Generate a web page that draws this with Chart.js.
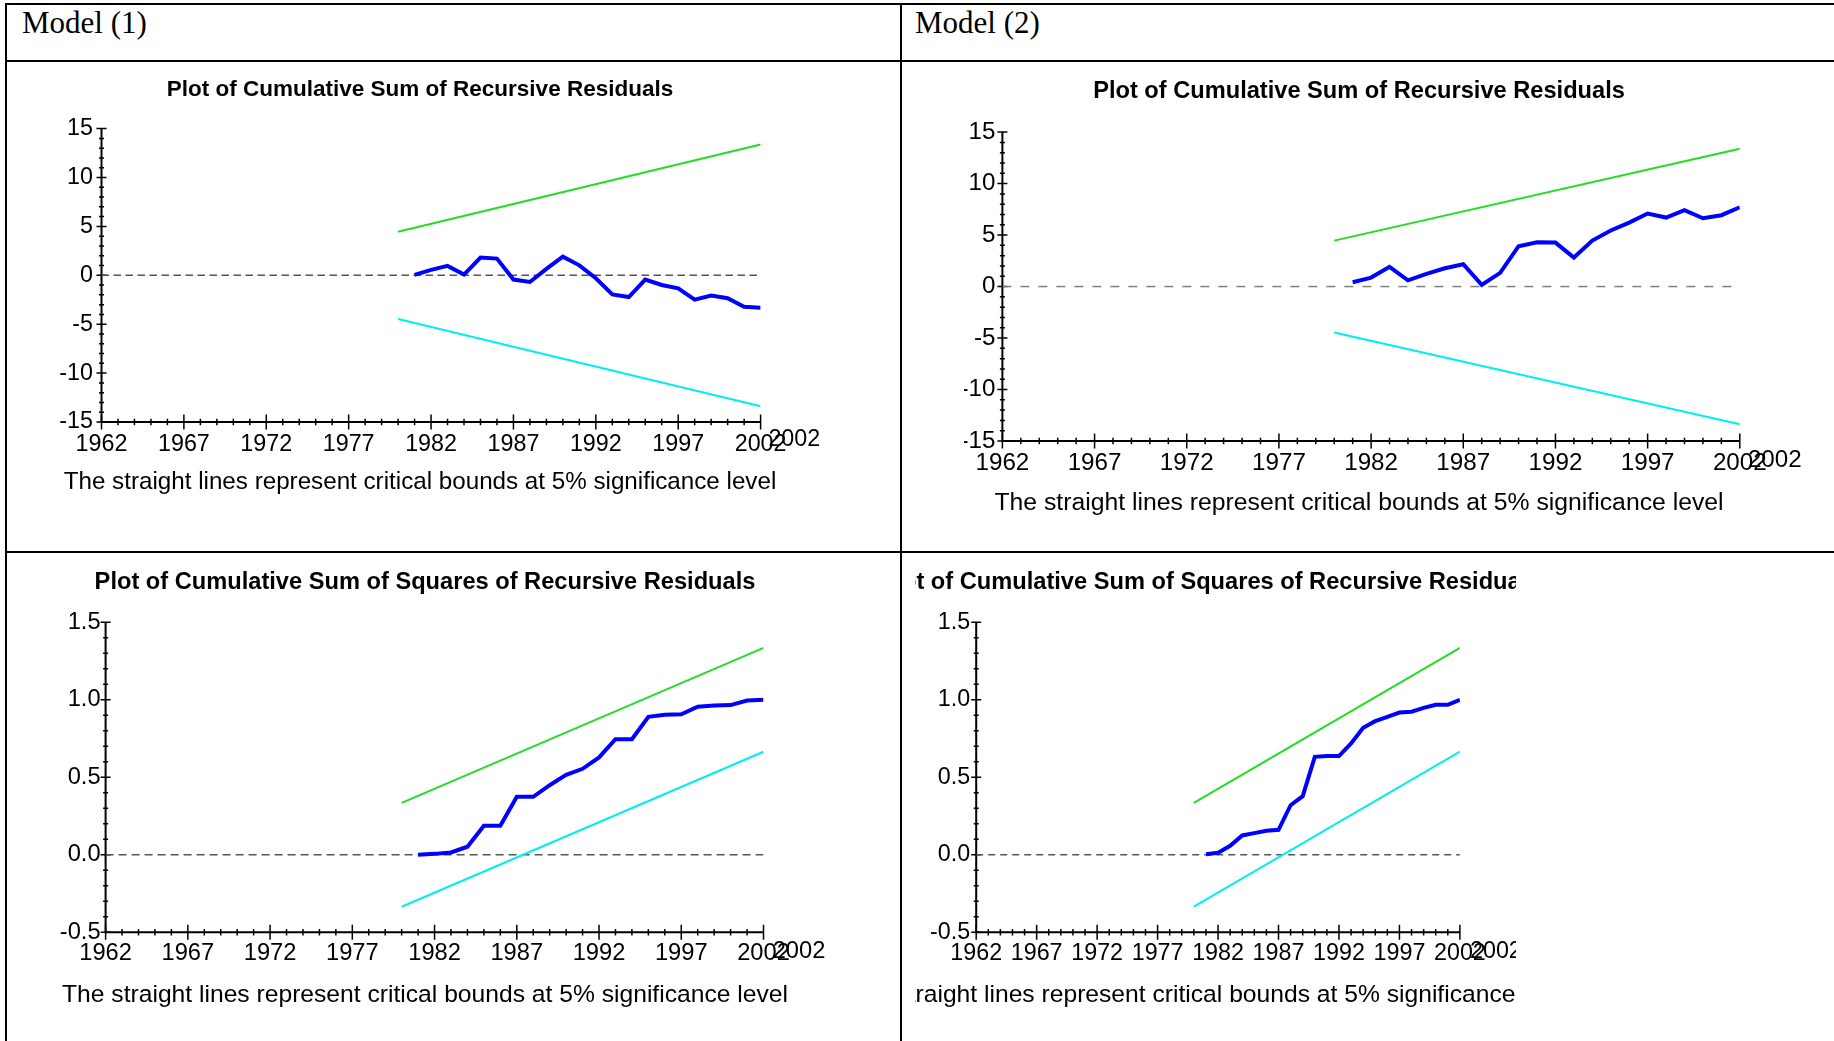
<!DOCTYPE html>
<html>
<head>
<meta charset="utf-8">
<title>CUSUM and CUSUMSQ plots</title>
<script src="https://cdn.jsdelivr.net/npm/chart.js@4.4.1/dist/chart.umd.min.js"></script>
<style>
  html, body { margin: 0; padding: 0; background: #fff; }
  body { width: 1834px; height: 1041px; position: relative; overflow: hidden; }
  .rule { position: absolute; background: #000; }
  .model { position: absolute; font-family: "Liberation Serif", "Times New Roman", serif; font-size: 31px; line-height: 31px; color: #000; white-space: nowrap; }
  canvas { position: absolute; }
  .clip { position: absolute; overflow: hidden; }
</style>
</head>
<body>
<!-- table rules -->
<div class="rule" style="left:5px;top:3px;width:1829px;height:2px"></div>
<div class="rule" style="left:5px;top:60px;width:1829px;height:2px"></div>
<div class="rule" style="left:5px;top:551px;width:1829px;height:2px"></div>
<div class="rule" style="left:5px;top:3px;width:2px;height:1038px"></div>
<div class="rule" style="left:900px;top:3px;width:2px;height:1038px"></div>
<div class="model" style="left:22px;top:7px">Model (1)</div>
<div class="model" style="left:915px;top:7px">Model (2)</div>

<script>
// ---- data ----
const years = [1981, 1982, 1983, 1984, 1985, 1986, 1987, 1988, 1989, 1990, 1991,
               1992, 1993, 1994, 1995, 1996, 1997, 1998, 1999, 2000, 2001, 2002];

// cumulative sum of recursive residuals
const cusumModel1 = [0.05, 0.55, 0.96, 0.07, 1.81, 1.71, -0.44, -0.68, 0.65, 1.91, 1.02,
                     -0.3, -1.95, -2.22, -0.44, -0.99, -1.33, -2.49, -2.08, -2.35, -3.21, -3.31];
const cusumModel2 = [0.42, 0.87, 1.91, 0.61, 1.23, 1.78, 2.17, 0.16, 1.33, 3.92, 4.30,
                     4.27, 2.82, 4.47, 5.44, 6.21, 7.09, 6.70, 7.41, 6.63, 6.93, 7.70];

// cumulative sum of squares of recursive residuals
const cusumsqModel1 = [0.0, 0.006, 0.015, 0.052, 0.187, 0.187, 0.374, 0.374, 0.449, 0.516, 0.555,
                       0.628, 0.746, 0.746, 0.890, 0.903, 0.906, 0.955, 0.963, 0.966, 0.995, 1.0];
const cusumsqModel2 = [0.004, 0.013, 0.058, 0.125, 0.140, 0.155, 0.161, 0.320, 0.378, 0.632, 0.637,
                       0.637, 0.718, 0.819, 0.862, 0.890, 0.918, 0.923, 0.948, 0.968, 0.968, 1.0];

// 5% critical bounds (straight lines)
const boundYears = [1980, 2002];
const cusumUpper = [4.46, 13.38];
const cusumLower = [-4.46, -13.38];
const cusumsqUpper = [0.335, 1.335];
const cusumsqLower = [-0.335, 0.665];

// dashed zero reference
const zeroYears = [1962, 2002];
const zeroValues = [0, 0];

// tick labels
const yearTicks = [1962, 1967, 1972, 1977, 1982, 1987, 1992, 1997, 2002];
const cusumTicks = [-15, -10, -5, 0, 5, 10, 15];
const cusumTickLabels = ['-15', '-10', '-5', '0', '5', '10', '15'];
const cusumsqTicks = [-0.5, 0, 0.5, 1.0, 1.5];
const cusumsqTickLabels = ['-0.5', '0.0', '0.5', '1.0', '1.5'];

const titleCusum = 'Plot of Cumulative Sum of Recursive Residuals';
const titleCusumsq = 'Plot of Cumulative Sum of Squares of Recursive Residuals';
const caption = 'The straight lines represent critical bounds at 5% significance level';

const FONT = "'Liberation Sans', Arial, Helvetica, sans-serif";

// ---- page layout of the four panels (page pixels) ----
const panels = [
  { id: 'cusum1', title: titleCusum, values: cusumModel1, upper: cusumUpper, lower: cusumLower,
    yTicks: cusumTicks, yLabels: cusumTickLabels, yMinor: 1,
    canvas: [10, 64, 830, 433], plot: [101.5, 128.6, 760.6, 422], box: [50, 790],
    titleY: 90, titleSize: 22.5, capY: 482, capSize: 24.2, tickSize: 23.3,
    xLabelY: 444.6, yGap: 8.5, extra: [33.7, 18], dash: [7.5, 4.5], zeroColor: '#555' },
  { id: 'cusum2', title: titleCusum, values: cusumModel2, upper: cusumUpper, lower: cusumLower,
    yTicks: cusumTicks, yLabels: cusumTickLabels, yMinor: 1,
    canvas: [940, 64, 885, 455], plot: [1002.4, 132.1, 1739.8, 441], box: [964, 1754],
    titleY: 91, titleSize: 23.64, capY: 503.6, capSize: 24.75, tickSize: 24.2,
    xLabelY: 463, yGap: 7, extra: [35, 19.7], dash: [9, 9], zeroColor: '#808080' },
  { id: 'cusumsq1', title: titleCusumsq, values: cusumsqModel1, upper: cusumsqUpper, lower: cusumsqLower,
    yTicks: cusumsqTicks, yLabels: cusumsqTickLabels, yMinor: 0.1,
    canvas: [10, 556, 835, 454], plot: [105.6, 622.3, 763.5, 932.3], box: [50, 800],
    titleY: 582.7, titleSize: 23.65, capY: 995, capSize: 24.65, tickSize: 23.7,
    xLabelY: 953.3, yGap: 5, extra: [35.5, 19.4], dash: [8, 5], zeroColor: '#555' },
  { id: 'cusumsq2', title: titleCusumsq, values: cusumsqModel2, upper: cusumsqUpper, lower: cusumsqLower,
    yTicks: cusumsqTicks, yLabels: cusumsqTickLabels, yMinor: 0.1,
    canvas: [830, 556, 770, 454], plot: [976.2, 622.3, 1459.9, 932.3], box: [840, 1580],
    titleY: 582.7, titleSize: 23.65, capY: 995, capSize: 24.65, tickSize: 23.3,
    xLabelY: 953.3, yGap: 6, extra: [36, 19.4], dash: [7, 5], zeroColor: '#555',
    clip: [915, 553, 601, 488] }
];

// axis lines with crossing major/minor tick marks, plus the stray second "2002"
const axisMarks = {
  id: 'axisMarks',
  beforeDatasetsDraw(chart, args, o) {
    const { ctx, chartArea: a } = chart;
    const x = chart.scales.x, y = chart.scales.y;
    ctx.save();
    ctx.strokeStyle = '#000';
    ctx.lineWidth = 1.5;
    ctx.beginPath();
    for (let i = 0; i <= 40; i++) {
      const px = x.getPixelForValue(x.min + i);
      const len = i % 5 === 0 ? 7.5 : 3.3;
      ctx.moveTo(px, a.bottom - len);
      ctx.lineTo(px, a.bottom + len);
    }
    const n = Math.round((y.max - y.min) / o.yMinor);
    for (let i = 0; i <= n; i++) {
      const py = y.getPixelForValue(y.min + i * o.yMinor);
      const len = i % 5 === 0 ? 5 : 2.5;
      ctx.moveTo(a.left - len, py);
      ctx.lineTo(a.left + len, py);
    }
    ctx.stroke();
    ctx.lineWidth = 2;
    ctx.beginPath();
    ctx.moveTo(a.left, a.top);
    ctx.lineTo(a.left, a.bottom);
    ctx.lineTo(a.right, a.bottom);
    ctx.stroke();
    ctx.restore();
  },
  afterDraw(chart, args, o) {
    const { ctx, chartArea: a } = chart;
    const x = chart.scales.x;
    ctx.save();
    ctx.font = o.tickSize + 'px ' + FONT;
    ctx.fillStyle = '#000';
    ctx.textAlign = 'center';
    ctx.textBaseline = 'middle';
    ctx.fillText(String(x.max), x.getPixelForValue(x.max) + o.extra[0], a.bottom + o.extra[1]);
    ctx.restore();
  }
};

function series(xs, ys) {
  return xs.map((v, i) => ({ x: v, y: ys[i] }));
}

panels.forEach(function (p) {
  const [CL, CT, CW, CH] = p.canvas;
  const [AL, AT, AR, AB] = p.plot;
  const [BL, BR] = p.box;
  const hx = 40;
  const lhT = p.titleSize * 1.2;
  const lhC = p.capSize * 1.2;

  const canvas = document.createElement('canvas');
  canvas.id = p.id;
  canvas.width = CW;
  canvas.height = CH;
  if (p.clip) {
    const wrap = document.createElement('div');
    wrap.className = 'clip';
    wrap.style.left = p.clip[0] + 'px';
    wrap.style.top = p.clip[1] + 'px';
    wrap.style.width = p.clip[2] + 'px';
    wrap.style.height = p.clip[3] + 'px';
    canvas.style.left = (CL - p.clip[0]) + 'px';
    canvas.style.top = (CT - p.clip[1]) + 'px';
    wrap.appendChild(canvas);
    document.body.appendChild(wrap);
  } else {
    canvas.style.left = CL + 'px';
    canvas.style.top = CT + 'px';
    document.body.appendChild(canvas);
  }

  const isSq = p.yMinor < 1;
  const yMin = p.yTicks[0], yMax = p.yTicks[p.yTicks.length - 1];

  new Chart(canvas.getContext('2d'), {
    type: 'line',
    data: {
      datasets: [
        { data: series(years, p.values), borderColor: '#0000ff', borderWidth: 4 },
        { data: series(boundYears, p.upper), borderColor: '#22dd22', borderWidth: 2 },
        { data: series(boundYears, p.lower), borderColor: '#00eeee', borderWidth: 2 },
        { data: series(zeroYears, zeroValues), borderColor: p.zeroColor, borderWidth: 1.5, borderDash: p.dash }
      ].map(d => Object.assign({ yAxisID: 'y', pointRadius: 0, fill: false, tension: 0 }, d))
    },
    options: {
      responsive: false,
      animation: false,
      events: [],
      layout: { padding: { left: BL - CL, right: CL + CW - BR, top: 0, bottom: 0 } },
      plugins: {
        legend: { display: false },
        tooltip: { enabled: false },
        title: {
          display: true, text: p.title, color: '#000',
          font: { family: FONT, size: p.titleSize, weight: 'bold', lineHeight: 1.2 },
          padding: { top: p.titleY - lhT / 2 - CT, bottom: AT - p.titleY - lhT / 2 }
        },
        subtitle: {
          display: true, position: 'bottom', text: caption, color: '#000',
          font: { family: FONT, size: p.capSize, weight: 'normal', lineHeight: 1.2 },
          padding: { top: p.capY - AB - hx - lhC / 2, bottom: CT + CH - p.capY - lhC / 2 }
        },
        axisMarks: { yMinor: p.yMinor, tickSize: p.tickSize, extra: p.extra }
      },
      scales: {
        x: {
          type: 'linear', min: yearTicks[0], max: yearTicks[yearTicks.length - 1],
          afterFit: s => { s.height = hx; },
          afterBuildTicks: s => { s.ticks = yearTicks.map(v => ({ value: v })); },
          grid: { display: false, drawTicks: false },
          border: { display: false },
          ticks: {
            autoSkip: false, maxRotation: 0, minRotation: 0, color: '#000',
            padding: p.xLabelY - AB - p.tickSize * 0.6,
            font: { family: FONT, size: p.tickSize, lineHeight: 1.2 },
            callback: v => String(v)
          }
        },
        y: {
          type: 'linear', min: yMin, max: yMax,
          afterFit: s => { s.width = AL - BL; },
          afterBuildTicks: s => { s.ticks = p.yTicks.map(v => ({ value: v })); },
          grid: { display: false, drawTicks: false },
          border: { display: false },
          ticks: {
            color: '#000', padding: p.yGap,
            font: { family: FONT, size: p.tickSize, lineHeight: 1.2 },
            callback: (v, i) => p.yLabels[i]
          }
        },
        yR: {
          type: 'linear', position: 'right', display: true,
          afterFit: s => { s.width = BR - AR; },
          grid: { display: false, drawTicks: false },
          border: { display: false },
          ticks: { display: false }
        }
      }
    },
    plugins: [axisMarks]
  });
});
</script>
</body>
</html>
